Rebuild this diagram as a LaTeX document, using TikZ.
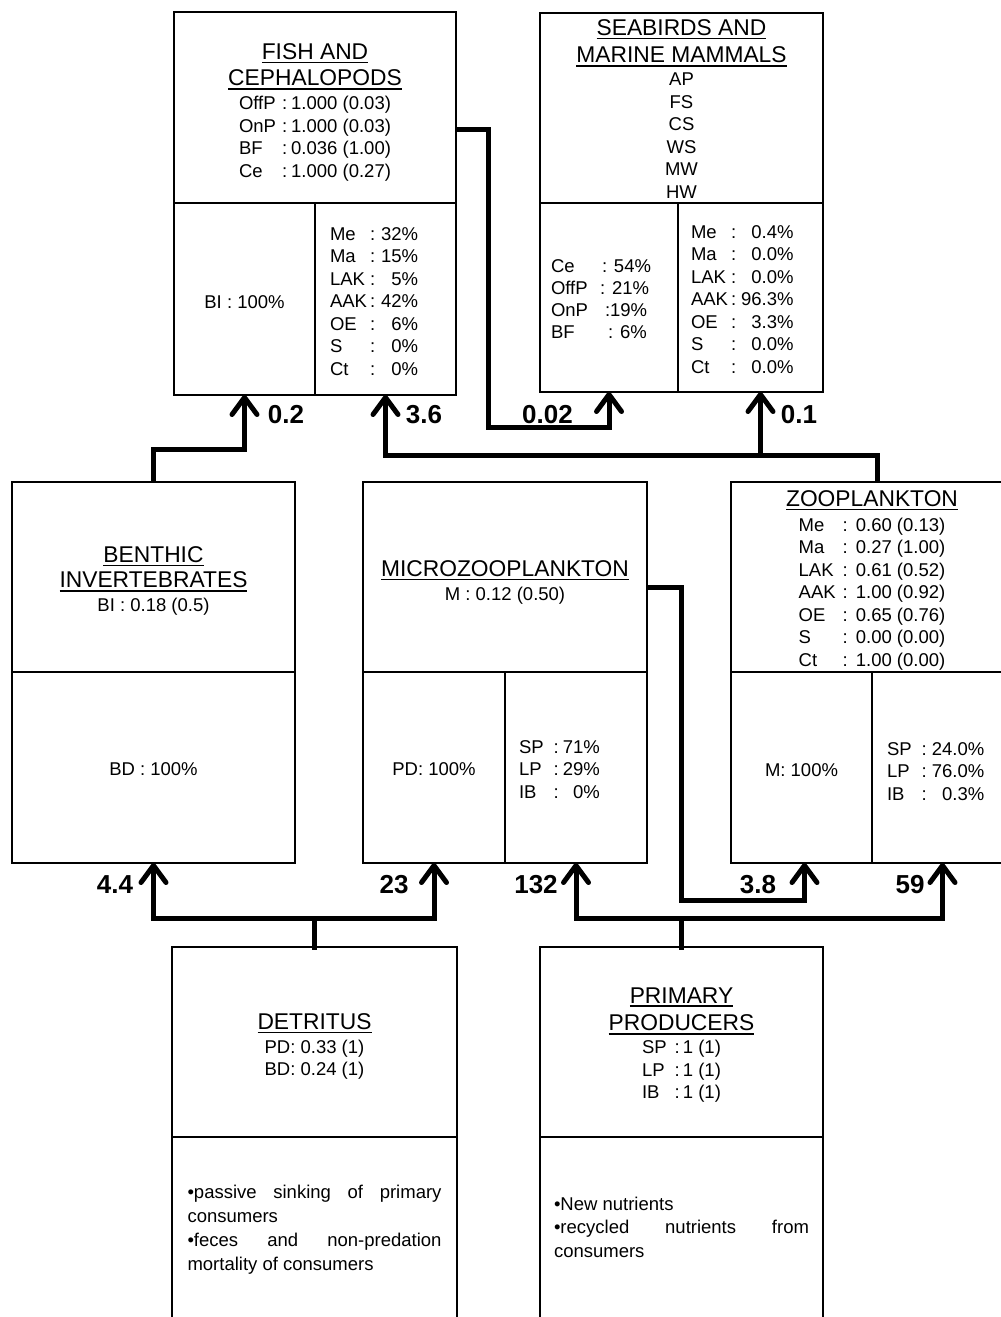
\documentclass[tikz,border=0pt]{standalone}
\usepackage{fontspec}
\setmainfont{Liberation Sans}
\usetikzlibrary{arrows.meta,fit}
\newcommand\ulin[1]{\vtop{\hbox{#1}\kern2.4pt\hrule height1.4pt}}
\newcommand\ttl[1]{{\fontsize{22.8}{27}\selectfont\ulin{#1}}}
\tikzset{
  cell/.style={draw, line width=2.6pt, inner sep=0pt, outer sep=0pt},
  txt/.style={inner sep=0pt, outer sep=0pt, font=\fontsize{18.5}{22.5}\selectfont},
  lbl/.style={inner sep=0pt, font=\fontsize{26}{30}\selectfont\bfseries, anchor=base},
  conn/.style={line width=5pt, -{Straight Barb[length=17pt,width=25pt,round]}},
  link/.style={line width=5pt, line cap=rect},
}
\begin{document}
\begin{tikzpicture}[x=1pt,y=-1pt]
\useasboundingbox (0,0) rectangle (1001,1317);
\fill[white] (0,0) rectangle (1001,1317);
\clip (0,0) rectangle (1001,1317);

% ---------- cells ----------
\node[cell, fit={(174,12) (456,203)}] (fishT) {};
\node[cell, fit={(174,203) (315,395)}] (fishL) {};
\node[cell, fit={(315,203) (456,395)}] (fishR) {};
\node[cell, fit={(540,13) (823,203)}] (sbT) {};
\node[cell, fit={(540,203) (678,392)}] (sbL) {};
\node[cell, fit={(678,203) (823,392)}] (sbR) {};
\node[cell, fit={(12,482) (295,672)}] (benT) {};
\node[cell, fit={(12,672) (295,863)}] (benB) {};
\node[cell, fit={(363,482) (647,672)}] (micT) {};
\node[cell, fit={(363,672) (505,863)}] (micL) {};
\node[cell, fit={(505,672) (647,863)}] (micR) {};
\node[cell, fit={(731,482) (1013,672)}] (zooT) {};
\node[cell, fit={(731,672) (872,863)}] (zooL) {};
\node[cell, fit={(872,672) (1013,863)}] (zooR) {};
\node[cell, fit={(172,947) (457,1137)}] (detT) {};
\node[cell, fit={(172,1137) (457,1327)}] (detB) {};
\node[cell, fit={(540,947) (823,1137)}] (priT) {};
\node[cell, fit={(540,1137) (823,1327)}] (priB) {};

% ---------- texts ----------
\node[txt, anchor=base] (fishTt) at (315,59) {\begin{tabular}[t]{@{}c@{}}
\ttl{FISH AND}\\[4pt]
\ttl{CEPHALOPODS}\\[1.5pt]
\begin{tabular}[t]{@{}l@{\hspace{6pt}}c@{\hspace{4pt}}l@{}}
OffP & : & 1.000 (0.03)\\
OnP & : & 1.000 (0.03)\\
BF & : & 0.036 (1.00)\\
Ce & : & 1.000 (0.27)
\end{tabular}
\end{tabular}};
\node[txt, anchor=base] (fishLt) at (244.5,308) {BI : 100\%};
\node[txt, anchor=base west] (fishRt) at (330,240) {\begin{tabular}[t]{@{}l@{\hspace{3pt}}c@{\hspace{6pt}}r@{}}
Me & : & 32\%\\ Ma & : & 15\%\\ LAK & : & 5\%\\ AAK & : & 42\%\\ OE & : & 6\%\\ S & : & 0\%\\ Ct & : & 0\%
\end{tabular}};

\node[txt, anchor=base] (sbTt) at (681.5,35) {\begin{tabular}[t]{@{}c@{}}
\ttl{SEABIRDS AND}\\[5pt]
\ttl{MARINE MAMMALS}\\[0.5pt]
AP\\ FS\\ CS\\ WS\\ MW\\ HW
\end{tabular}};
\node[txt, anchor=base west] (sbLt) at (551,272) {\begin{tabular}[t]{@{}l@{\hspace{12pt}}l@{}}
Ce & \hspace{2pt}: 54\%\\[-0.5pt] OffP & : 21\%\\[-0.5pt] OnP & \hspace{5pt}:19\%\\[-0.5pt] BF & \hspace{8pt}: 6\%
\end{tabular}};
\node[txt, anchor=base west] (sbRt) at (691,238) {\begin{tabular}[t]{@{}l@{\hspace{3pt}}c@{\hspace{5pt}}r@{}}
Me & : & 0.4\%\\ Ma & : & 0.0\%\\ LAK & : & 0.0\%\\ AAK & : & 96.3\%\\ OE & : & 3.3\%\\ S & : & 0.0\%\\ Ct & : & 0.0\%
\end{tabular}};

\node[txt, anchor=base] (benTt) at (153.5,562) {\begin{tabular}[t]{@{}c@{}}
\ttl{BENTHIC}\\[3pt]
\ttl{INVERTEBRATES}\\[1.5pt]
BI : 0.18 (0.5)
\end{tabular}};
\node[txt, anchor=base] (benBt) at (153.5,775) {BD : 100\%};

\node[txt, anchor=base] (micTt) at (505,576) {\begin{tabular}[t]{@{}c@{}}
\ttl{MICROZOOPLANKTON}\\[1.5pt]
M : 0.12 (0.50)
\end{tabular}};
\node[txt, anchor=base] (micLt) at (434,775) {PD: 100\%};
\node[txt, anchor=base west] (micRt) at (519,753) {\begin{tabular}[t]{@{}l@{\hspace{10pt}}c@{\hspace{4pt}}r@{}}
SP & : & 71\%\\ LP & : & 29\%\\ IB & : & 0\%
\end{tabular}};

\node[txt, anchor=base] (zooTt) at (872,506) {\begin{tabular}[t]{@{}c@{}}
\ttl{ZOOPLANKTON}\\[2.5pt]
\begin{tabular}[t]{@{}l@{\hspace{7pt}}c@{\hspace{8pt}}l@{}}
Me & : & 0.60 (0.13)\\
Ma & : & 0.27 (1.00)\\
LAK & : & 0.61 (0.52)\\
AAK & : & 1.00 (0.92)\\
OE & : & 0.65 (0.76)\\
S & : & 0.00 (0.00)\\
Ct & : & 1.00 (0.00)
\end{tabular}
\end{tabular}};
\node[txt, anchor=base] (zooLt) at (801.5,776) {M: 100\%};
\node[txt, anchor=base west] (zooRt) at (887,755) {\begin{tabular}[t]{@{}l@{\hspace{10pt}}c@{\hspace{5pt}}r@{}}
SP & : & 24.0\%\\ LP & : & 76.0\%\\ IB & : & 0.3\%
\end{tabular}};

\node[txt, anchor=base] (detTt) at (314.5,1029) {\begin{tabular}[t]{@{}c@{}}
\ttl{DETRITUS}\\[1.5pt]
PD: 0.33 (1)\\
BD: 0.24 (1)
\end{tabular}};
\node[txt, anchor=base] (detBt) at (314.5,1198) {\parbox[t]{254pt}{\fontsize{18.5}{24.3}\selectfont\tolerance=10000 \hyphenpenalty=10000 \exhyphenpenalty=10000
•passive sinking of primary consumers\par
•feces and non-predation mortality of consumers}};

\node[txt, anchor=base] (priTt) at (681.5,1003) {\begin{tabular}[t]{@{}c@{}}
\ttl{PRIMARY}\\[5pt]
\ttl{PRODUCERS}\\[0.5pt]
\begin{tabular}[t]{@{}l@{\hspace{8pt}}c@{\hspace{3pt}}l@{}}
SP & : & 1 (1)\\
LP & : & 1 (1)\\
IB & : & 1 (1)
\end{tabular}
\end{tabular}};
\node[txt, anchor=base] (priBt) at (681.5,1210) {\parbox[t]{255pt}{\fontsize{18.5}{23.5}\selectfont\tolerance=10000 \hyphenpenalty=10000 \exhyphenpenalty=10000
•New nutrients\par
•recycled nutrients from consumers}};

% ---------- connectors ----------
\draw[conn] (benT.north) -- ++(0,-33) -| (fishL.south);
\draw[conn] ([xshift=5pt]zooT.north) -- ++(0,-27) coordinate (zj) -| (fishR.south);
\coordinate (sbRin) at ([xshift=10pt]sbR.south);
\draw[conn] (zj -| sbRin) -- (sbRin);
\draw[conn] ([yshift=-22pt]fishT.east) -- ++(32,0) -- ++(0,298) -| (sbL.south);
\coordinate (zooLin) at ([xshift=3pt]zooL.south);
\draw[conn] ([yshift=-10pt]micT.east) -- ++(34,0) -- ++(0,313) -| (zooLin);
\draw[link] (detT.north) -- ++(0,-29) coordinate (dj);
\draw[conn] (dj) -| (benB.south);
\draw[conn] (dj) -| (micL.south);
\draw[link] (priT.north) -- ++(0,-29) coordinate (pj);
\draw[conn] (pj) -| (micR.south);
\draw[conn] (pj) -| (zooR.south);

% ---------- flow labels ----------
\node[lbl] (f1) at (286,423) {0.2};
\node[lbl] (f2) at (424,423) {3.6};
\node[lbl] (f3) at (547.5,423) {0.02};
\node[lbl] (f4) at (799,423) {0.1};
\node[lbl] (f5) at (115,893) {4.4};
\node[lbl] (f6) at (394,893) {23};
\node[lbl] (f7) at (536,893) {132};
\node[lbl] (f8) at (758,893) {3.8};
\node[lbl] (f9) at (910,893) {59};
\end{tikzpicture}
\end{document}
